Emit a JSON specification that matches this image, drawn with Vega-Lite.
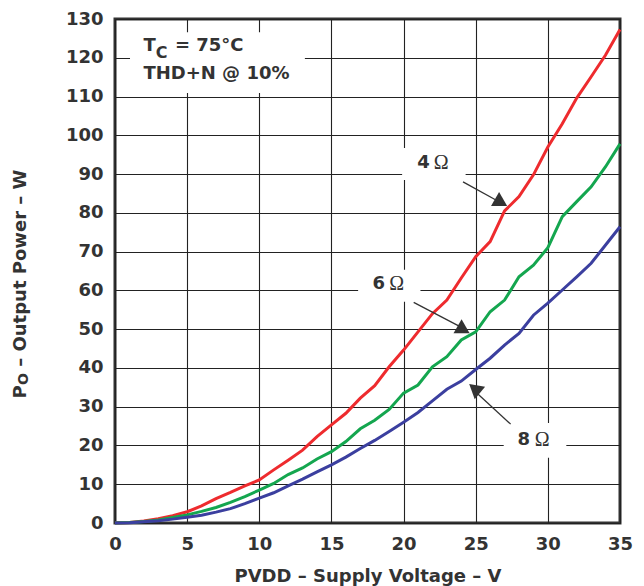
{
  "$schema": "https://vega.github.io/schema/vega-lite/v6.json",
  "width": 505,
  "height": 504,
  "autosize": {"type": "none"},
  "padding": {"left": 115, "top": 19, "right": 24, "bottom": 63},
  "background": "white",
  "config": {
    "view": {"stroke": "#333333", "strokeWidth": 3},
    "axis": {
      "grid": true,
      "gridColor": "#222222",
      "gridWidth": 1.1,
      "domain": false,
      "ticks": false,
      "tickSize": 0,
      "labelFont": "DejaVu Sans",
      "labelFontWeight": "bold",
      "labelFontSize": 18,
      "labelColor": "#333333",
      "labelFlush": false,
      "labelOverlap": false,
      "labelPadding": 12,
      "titleFont": "DejaVu Sans",
      "titleFontWeight": "bold",
      "titleFontSize": 18,
      "titleColor": "#333333"
    },
    "axisX": {"titleBaseline": "alphabetic", "titleY": 58}
  },
  "datasets": {
    "curves": [
      {"V": 0, "P": 0, "load": "4 Ω"}, {"V": 1, "P": 0.1, "load": "4 Ω"}, {"V": 2, "P": 0.5, "load": "4 Ω"}, {"V": 3, "P": 1.1, "load": "4 Ω"}, {"V": 4, "P": 1.9, "load": "4 Ω"}, {"V": 5, "P": 2.9, "load": "4 Ω"}, {"V": 6, "P": 4.4, "load": "4 Ω"}, {"V": 7, "P": 6.3, "load": "4 Ω"}, {"V": 8, "P": 7.9, "load": "4 Ω"}, {"V": 9, "P": 9.6, "load": "4 Ω"}, {"V": 10, "P": 11.1, "load": "4 Ω"}, {"V": 11, "P": 13.7, "load": "4 Ω"}, {"V": 12, "P": 16.2, "load": "4 Ω"}, {"V": 13, "P": 18.8, "load": "4 Ω"}, {"V": 14, "P": 22.3, "load": "4 Ω"}, {"V": 15, "P": 25.3, "load": "4 Ω"}, {"V": 16, "P": 28.3, "load": "4 Ω"}, {"V": 17, "P": 32.2, "load": "4 Ω"}, {"V": 18, "P": 35.4, "load": "4 Ω"}, {"V": 19, "P": 40.3, "load": "4 Ω"}, {"V": 20, "P": 44.6, "load": "4 Ω"}, {"V": 21, "P": 49.3, "load": "4 Ω"}, {"V": 22, "P": 54, "load": "4 Ω"}, {"V": 23, "P": 57.5, "load": "4 Ω"}, {"V": 24, "P": 63.2, "load": "4 Ω"}, {"V": 25, "P": 68.7, "load": "4 Ω"}, {"V": 26, "P": 72.6, "load": "4 Ω"}, {"V": 27, "P": 80.5, "load": "4 Ω"}, {"V": 28, "P": 84.2, "load": "4 Ω"}, {"V": 29, "P": 89.8, "load": "4 Ω"}, {"V": 30, "P": 97, "load": "4 Ω"}, {"V": 31, "P": 103, "load": "4 Ω"}, {"V": 32, "P": 109.6, "load": "4 Ω"}, {"V": 33, "P": 115.1, "load": "4 Ω"}, {"V": 34, "P": 120.7, "load": "4 Ω"}, {"V": 35, "P": 127.3, "load": "4 Ω"},
      {"V": 0, "P": 0, "load": "6 Ω"}, {"V": 1, "P": 0.1, "load": "6 Ω"}, {"V": 2, "P": 0.4, "load": "6 Ω"}, {"V": 3, "P": 0.8, "load": "6 Ω"}, {"V": 4, "P": 1.4, "load": "6 Ω"}, {"V": 5, "P": 2.1, "load": "6 Ω"}, {"V": 6, "P": 3.0, "load": "6 Ω"}, {"V": 7, "P": 4.0, "load": "6 Ω"}, {"V": 8, "P": 5.3, "load": "6 Ω"}, {"V": 9, "P": 6.8, "load": "6 Ω"}, {"V": 10, "P": 8.5, "load": "6 Ω"}, {"V": 11, "P": 10.2, "load": "6 Ω"}, {"V": 12, "P": 12.5, "load": "6 Ω"}, {"V": 13, "P": 14.2, "load": "6 Ω"}, {"V": 14, "P": 16.5, "load": "6 Ω"}, {"V": 15, "P": 18.4, "load": "6 Ω"}, {"V": 16, "P": 21, "load": "6 Ω"}, {"V": 17, "P": 24.3, "load": "6 Ω"}, {"V": 18, "P": 26.5, "load": "6 Ω"}, {"V": 19, "P": 29.3, "load": "6 Ω"}, {"V": 20, "P": 33.5, "load": "6 Ω"}, {"V": 21, "P": 35.6, "load": "6 Ω"}, {"V": 22, "P": 40.3, "load": "6 Ω"}, {"V": 23, "P": 42.9, "load": "6 Ω"}, {"V": 24, "P": 47.2, "load": "6 Ω"}, {"V": 25, "P": 49.3, "load": "6 Ω"}, {"V": 26, "P": 54.5, "load": "6 Ω"}, {"V": 27, "P": 57.5, "load": "6 Ω"}, {"V": 28, "P": 63.5, "load": "6 Ω"}, {"V": 29, "P": 66.5, "load": "6 Ω"}, {"V": 30, "P": 71, "load": "6 Ω"}, {"V": 31, "P": 79, "load": "6 Ω"}, {"V": 32, "P": 82.9, "load": "6 Ω"}, {"V": 33, "P": 86.7, "load": "6 Ω"}, {"V": 34, "P": 91.9, "load": "6 Ω"}, {"V": 35, "P": 97.8, "load": "6 Ω"},
      {"V": 0, "P": 0, "load": "8 Ω"}, {"V": 1, "P": 0.05, "load": "8 Ω"}, {"V": 2, "P": 0.3, "load": "8 Ω"}, {"V": 3, "P": 0.6, "load": "8 Ω"}, {"V": 4, "P": 1.0, "load": "8 Ω"}, {"V": 5, "P": 1.5, "load": "8 Ω"}, {"V": 6, "P": 2.0, "load": "8 Ω"}, {"V": 7, "P": 2.8, "load": "8 Ω"}, {"V": 8, "P": 3.7, "load": "8 Ω"}, {"V": 9, "P": 5.0, "load": "8 Ω"}, {"V": 10, "P": 6.4, "load": "8 Ω"}, {"V": 11, "P": 7.8, "load": "8 Ω"}, {"V": 12, "P": 9.6, "load": "8 Ω"}, {"V": 13, "P": 11.3, "load": "8 Ω"}, {"V": 14, "P": 13.2, "load": "8 Ω"}, {"V": 15, "P": 15.0, "load": "8 Ω"}, {"V": 16, "P": 17.0, "load": "8 Ω"}, {"V": 17, "P": 19.2, "load": "8 Ω"}, {"V": 18, "P": 21.3, "load": "8 Ω"}, {"V": 19, "P": 23.6, "load": "8 Ω"}, {"V": 20, "P": 26.0, "load": "8 Ω"}, {"V": 21, "P": 28.5, "load": "8 Ω"}, {"V": 22, "P": 31.5, "load": "8 Ω"}, {"V": 23, "P": 34.5, "load": "8 Ω"}, {"V": 24, "P": 36.6, "load": "8 Ω"}, {"V": 25, "P": 39.6, "load": "8 Ω"}, {"V": 26, "P": 42.5, "load": "8 Ω"}, {"V": 27, "P": 45.9, "load": "8 Ω"}, {"V": 28, "P": 48.9, "load": "8 Ω"}, {"V": 29, "P": 53.6, "load": "8 Ω"}, {"V": 30, "P": 56.7, "load": "8 Ω"}, {"V": 31, "P": 60.1, "load": "8 Ω"}, {"V": 32, "P": 63.5, "load": "8 Ω"}, {"V": 33, "P": 67, "load": "8 Ω"}, {"V": 34, "P": 71.7, "load": "8 Ω"}, {"V": 35, "P": 76.4, "load": "8 Ω"}
    ],
    "boxes": [
      {"x1": 1.04, "x2": 13.16, "y1": 110.9, "y2": 126.6},
      {"x1": 19.9, "x2": 24.3, "y1": 88.5, "y2": 96.7},
      {"x1": 16.85, "x2": 21.17, "y1": 57.1, "y2": 65.3},
      {"x1": 26.94, "x2": 31.28, "y1": 16.8, "y2": 25.8}
    ],
    "arrows": [
      {"x1": 24.12, "y1": 88.0, "x2": 26.4, "y2": 83.3},
      {"x1": 20.7, "y1": 56.9, "x2": 23.85, "y2": 50.8},
      {"x1": 27.42, "y1": 25.5, "x2": 25.0, "y2": 33.8}
    ],
    "heads": [
      {"x": 26.62, "y": 83.56, "id": "4"},
      {"x": 24.02, "y": 50.74, "id": "6"},
      {"x": 24.92, "y": 34.7, "id": "8"}
    ],
    "boldText": [
      {"t": "T", "x": 1.97, "y": 123.0},
      {"t": "= 75°C", "x": 4.15, "y": 123.0},
      {"t": "THD+N @ 10%", "x": 1.97, "y": 115.8},
      {"t": "4", "x": 20.95, "y": 92.8},
      {"t": "6", "x": 17.85, "y": 61.7},
      {"t": "8", "x": 27.9, "y": 21.4}
    ],
    "subText": [
      {"t": "C", "x": 2.83, "y": 121.3}
    ],
    "omega": [
      {"t": "Ω", "x": 22.1, "y": 92.8},
      {"t": "Ω", "x": 19.0, "y": 61.7},
      {"t": "Ω", "x": 29.1, "y": 21.4}
    ],
    "ytitleBig": [
      {"t": "P", "x": -6.51, "y": 32.1},
      {"t": "– Output Power – W", "x": -6.51, "y": 40.3}
    ],
    "ytitleSub": [
      {"t": "O", "x": -6.31, "y": 35.6}
    ]
  },
  "layer": [
    {
      "data": {"name": "boxes"},
      "mark": {"type": "rect", "fill": "white", "stroke": null},
      "encoding": {
        "x": {"field": "x1", "type": "quantitative", "scale": {"domain": [0, 35], "nice": false}, "title": "PVDD – Supply Voltage – V", "axis": {"values": [0, 5, 10, 15, 20, 25, 30, 35]}},
        "x2": {"field": "x2"},
        "y": {"field": "y1", "type": "quantitative", "scale": {"domain": [0, 130], "nice": false}, "title": null, "axis": {"values": [0, 10, 20, 30, 40, 50, 60, 70, 80, 90, 100, 110, 120, 130]}},
        "y2": {"field": "y2"}
      }
    },
    {
      "data": {"name": "curves"},
      "mark": {"type": "line", "strokeWidth": 3},
      "encoding": {
        "x": {"field": "V", "type": "quantitative", "scale": {"domain": [0, 35], "nice": false}, "title": "PVDD – Supply Voltage – V", "axis": {"values": [0, 5, 10, 15, 20, 25, 30, 35]}},
        "y": {"field": "P", "type": "quantitative", "scale": {"domain": [0, 130], "nice": false}, "title": null, "axis": {"values": [0, 10, 20, 30, 40, 50, 60, 70, 80, 90, 100, 110, 120, 130]}},
        "color": {"field": "load", "type": "nominal", "scale": {"domain": ["4 Ω", "6 Ω", "8 Ω"], "range": ["#ee2b2e", "#14a64f", "#3b3f9f"]}, "legend": null}
      }
    },
    {
      "data": {"name": "arrows"},
      "mark": {"type": "rule", "color": "#333333", "strokeWidth": 1.3},
      "encoding": {
        "x": {"field": "x1", "type": "quantitative", "scale": {"domain": [0, 35], "nice": false}, "title": "PVDD – Supply Voltage – V", "axis": {"values": [0, 5, 10, 15, 20, 25, 30, 35]}},
        "x2": {"field": "x2"},
        "y": {"field": "y1", "type": "quantitative", "scale": {"domain": [0, 130], "nice": false}, "title": null, "axis": {"values": [0, 10, 20, 30, 40, 50, 60, 70, 80, 90, 100, 110, 120, 130]}},
        "y2": {"field": "y2"}
      }
    },
    {
      "data": {"name": "heads"},
      "transform": [{"filter": "datum.id != '8'"}],
      "mark": {"type": "point", "shape": "triangle-up", "filled": true, "color": "#333333", "opacity": 1, "size": 260},
      "encoding": {
        "x": {"field": "x", "type": "quantitative", "scale": {"domain": [0, 35], "nice": false}, "title": "PVDD – Supply Voltage – V", "axis": {"values": [0, 5, 10, 15, 20, 25, 30, 35]}},
        "y": {"field": "y", "type": "quantitative", "scale": {"domain": [0, 130], "nice": false}, "title": null, "axis": {"values": [0, 10, 20, 30, 40, 50, 60, 70, 80, 90, 100, 110, 120, 130]}}
      }
    },
    {
      "data": {"name": "heads"},
      "transform": [{"filter": "datum.id == '8'"}],
      "mark": {"type": "point", "shape": "triangle-up", "filled": true, "color": "#333333", "opacity": 1, "size": 260, "angle": 310},
      "encoding": {
        "x": {"field": "x", "type": "quantitative", "scale": {"domain": [0, 35], "nice": false}, "title": "PVDD – Supply Voltage – V", "axis": {"values": [0, 5, 10, 15, 20, 25, 30, 35]}},
        "y": {"field": "y", "type": "quantitative", "scale": {"domain": [0, 130], "nice": false}, "title": null, "axis": {"values": [0, 10, 20, 30, 40, 50, 60, 70, 80, 90, 100, 110, 120, 130]}}
      }
    },
    {
      "data": {"name": "boldText"},
      "mark": {"type": "text", "align": "left", "baseline": "middle", "font": "DejaVu Sans", "fontWeight": "bold", "fontSize": 18, "color": "#333333"},
      "encoding": {
        "x": {"field": "x", "type": "quantitative", "scale": {"domain": [0, 35], "nice": false}, "title": "PVDD – Supply Voltage – V", "axis": {"values": [0, 5, 10, 15, 20, 25, 30, 35]}},
        "y": {"field": "y", "type": "quantitative", "scale": {"domain": [0, 130], "nice": false}, "title": null, "axis": {"values": [0, 10, 20, 30, 40, 50, 60, 70, 80, 90, 100, 110, 120, 130]}},
        "text": {"field": "t"}
      }
    },
    {
      "data": {"name": "subText"},
      "mark": {"type": "text", "align": "left", "baseline": "middle", "font": "DejaVu Sans", "fontWeight": "bold", "fontSize": 16, "color": "#333333"},
      "encoding": {
        "x": {"field": "x", "type": "quantitative", "scale": {"domain": [0, 35], "nice": false}, "title": "PVDD – Supply Voltage – V", "axis": {"values": [0, 5, 10, 15, 20, 25, 30, 35]}},
        "y": {"field": "y", "type": "quantitative", "scale": {"domain": [0, 130], "nice": false}, "title": null, "axis": {"values": [0, 10, 20, 30, 40, 50, 60, 70, 80, 90, 100, 110, 120, 130]}},
        "text": {"field": "t"}
      }
    },
    {
      "data": {"name": "omega"},
      "mark": {"type": "text", "align": "left", "baseline": "middle", "font": "Liberation Serif", "fontSize": 20, "color": "#333333"},
      "encoding": {
        "x": {"field": "x", "type": "quantitative", "scale": {"domain": [0, 35], "nice": false}, "title": "PVDD – Supply Voltage – V", "axis": {"values": [0, 5, 10, 15, 20, 25, 30, 35]}},
        "y": {"field": "y", "type": "quantitative", "scale": {"domain": [0, 130], "nice": false}, "title": null, "axis": {"values": [0, 10, 20, 30, 40, 50, 60, 70, 80, 90, 100, 110, 120, 130]}},
        "text": {"field": "t"}
      }
    },
    {
      "data": {"name": "ytitleBig"},
      "mark": {"type": "text", "align": "left", "baseline": "middle", "angle": 270, "font": "DejaVu Sans", "fontWeight": "bold", "fontSize": 18, "color": "#333333"},
      "encoding": {
        "x": {"field": "x", "type": "quantitative", "scale": {"domain": [0, 35], "nice": false}, "title": "PVDD – Supply Voltage – V", "axis": {"values": [0, 5, 10, 15, 20, 25, 30, 35]}},
        "y": {"field": "y", "type": "quantitative", "scale": {"domain": [0, 130], "nice": false}, "title": null, "axis": {"values": [0, 10, 20, 30, 40, 50, 60, 70, 80, 90, 100, 110, 120, 130]}},
        "text": {"field": "t"}
      }
    },
    {
      "data": {"name": "ytitleSub"},
      "mark": {"type": "text", "align": "left", "baseline": "middle", "angle": 270, "font": "DejaVu Sans", "fontWeight": "bold", "fontSize": 14, "color": "#333333"},
      "encoding": {
        "x": {"field": "x", "type": "quantitative", "scale": {"domain": [0, 35], "nice": false}, "title": "PVDD – Supply Voltage – V", "axis": {"values": [0, 5, 10, 15, 20, 25, 30, 35]}},
        "y": {"field": "y", "type": "quantitative", "scale": {"domain": [0, 130], "nice": false}, "title": null, "axis": {"values": [0, 10, 20, 30, 40, 50, 60, 70, 80, 90, 100, 110, 120, 130]}},
        "text": {"field": "t"}
      }
    }
  ]
}
